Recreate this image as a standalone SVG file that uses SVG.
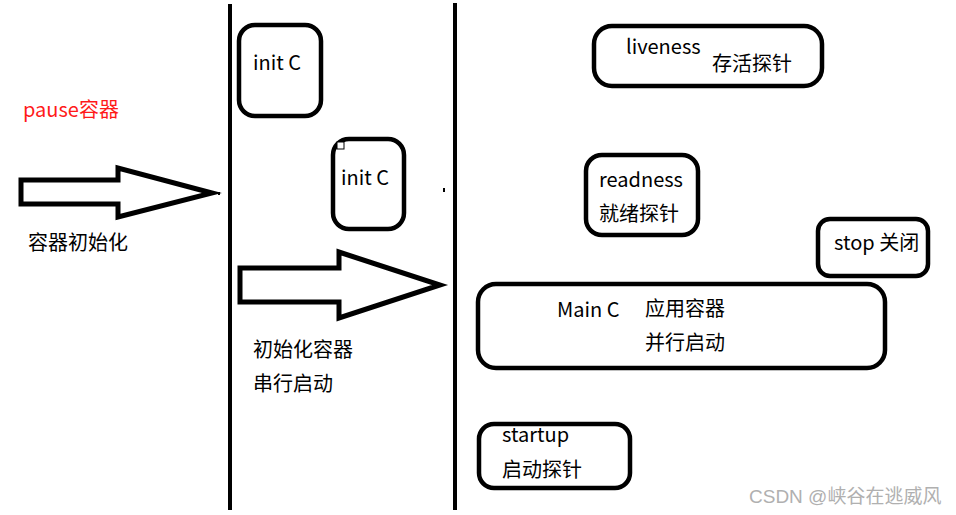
<svg xmlns="http://www.w3.org/2000/svg" width="956" height="515" viewBox="0 0 956 515">
<style>
.box{fill:#fff;stroke:#000;stroke-width:4.5}
.arr{fill:#fff;stroke:#000;stroke-width:5;stroke-linejoin:miter}
.ln{stroke:#000;stroke-width:4;fill:none}
text{font-family:"Microsoft YaHei","Noto Sans CJK SC","Noto Sans",sans-serif;font-size:20px;fill:#000}
.red{fill:#ff1a1a}
.wm{fill:#b0b0b0;font-size:19px;font-family:"Liberation Sans","Noto Sans CJK SC",sans-serif}
</style>
<rect width="956" height="515" fill="#fff"/>
<g id="connectors">
<line class="ln" x1="230" y1="4" x2="230" y2="510"/>
<line class="ln" x1="455" y1="3" x2="455" y2="510"/>
<polygon class="arr" points="21,180 118,180 118,168 212,193 118,217 118,204 21,204"/>
<rect x="218" y="192" width="2" height="3" fill="#000"/>
<polygon class="arr" points="240,268 339,268 339,252 440,285 339,318 339,302 240,302"/>
<rect x="443" y="188" width="2" height="4" fill="#000"/>
</g>
<g id="pause">
<text class="red" x="23" y="117">pause容器</text>
<text x="28" y="250">容器初始化</text>
</g>
<g id="initC1">
<rect class="box" x="239" y="25" width="82" height="91" rx="16"/>
<text x="253" y="70">init C</text>
</g>
<g id="initC2">
<rect class="box" x="333" y="139" width="71" height="90" rx="16"/>
<rect x="337" y="142" width="7" height="7" fill="#fff" stroke="#000" stroke-width="1"/>
<text x="341" y="185">init C</text>
</g>
<g id="serial">
<text x="253" y="357">初始化容器</text>
<text x="253" y="391">串行启动</text>
</g>
<g id="liveness">
<rect class="box" x="594" y="26" width="228" height="60" rx="18"/>
<text x="626" y="54">liveness</text>
<text x="712" y="71">存活探针</text>
</g>
<g id="readness">
<rect class="box" x="586" y="155" width="112" height="80" rx="16"/>
<text x="599" y="187">readness</text>
<text x="599" y="221">就绪探针</text>
</g>
<g id="stop">
<rect class="box" x="818" y="219" width="110" height="57" rx="12"/>
<text x="834" y="250">stop 关闭</text>
</g>
<g id="mainC">
<rect class="box" x="478" y="284" width="407" height="84" rx="18"/>
<text x="557" y="317">Main C</text>
<text x="645" y="316">应用容器</text>
<text x="645" y="350">并行启动</text>
</g>
<g id="startup">
<rect class="box" x="479" y="424" width="151" height="64" rx="15"/>
<text x="502" y="442">startup</text>
<text x="502" y="477">启动探针</text>
</g>
<text class="wm" x="749" y="503">CSDN @峡谷在逃威风</text>
</svg>
